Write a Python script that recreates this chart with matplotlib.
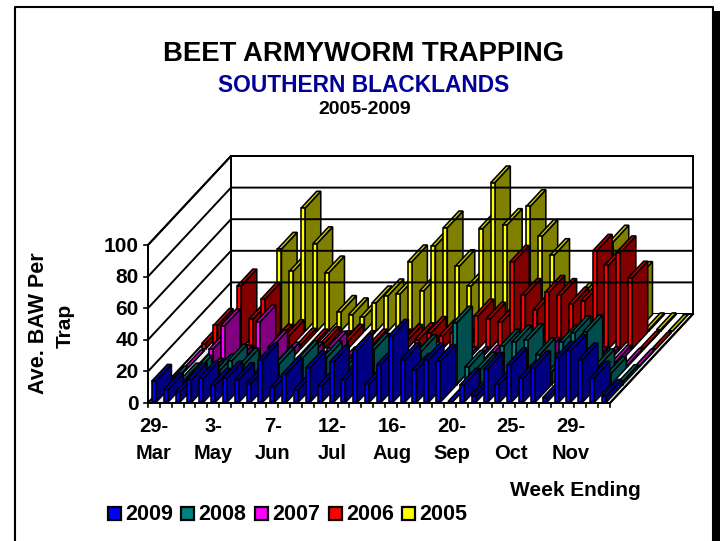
import matplotlib
matplotlib.use("Agg")
import matplotlib.pyplot as plt

plt.rcParams['font.family'] = ['Liberation Sans', 'DejaVu Sans']

# weekly values, one list per year, same 39 weeks
y2009 = [13.5, 8, 6.5, 14.5, 15.5, 11, 15.5, 14.5, 12, 27, 9.5, 18, 8, 22, 10.5, 25.5, 14.5, 33, 11.5, 24,
         42, 27, 20.5, 27, 26, 0.5, 11, 4, 21, 11.5, 24, 15.5, 22, 3, 28, 32.5, 27, 15.5, 4]
y2008 = [1, 3, 8, 6, 9, 15, 12.5, 4, 2, 13, 3, 17, 4, 17, 6, 8, 5, 22, 5, 8,
         10, 21, 5, 8, 39, 11, 10, 6, 24.5, 27, 28, 19, 8, 27, 33, 33.5, 12, 7, 2]
y2007 = [0, 0.5, 11, 26, 3, 3, 28.5, 12.5, 5, 2, 5, 2, 12, 2, 1, 1, 1, 1, 1, 2,
         2, 2, 3, 2, 2, 3, 2, 2, 1, 1, 8, 2, 2, 2, 2, 2, 3, 1, 0.5]
y2006 = [3.5, 15, 10, 40, 19, 31.5, 5, 8, 2.5, 2, 3.5, 1, 5, 1, 2, 2, 2, 5, 6, 10,
         8, 10, 5, 21, 19, 17, 55, 34, 25, 36, 34, 28.5, 30.5, 62, 53, 61, 45, 0.5, 0]
y2005 = [0, 0, 0, 0, 0, 52, 38, 78, 55.5, 37, 12, 10.5, 9, 18, 22.5, 23.5, 44, 25.5, 54, 65.5,
         41, 28.5, 65, 94, 67, 30, 79, 60, 48, 5, 20, 5, 5, 56.5, 10, 33.5, 1, 1, 0]

years = ['2009', '2008', '2007', '2006', '2005']
series = [y2009, y2008, y2007, y2006, y2005]
front_cols = ['#0000ff', '#008080', '#ff00ff', '#ff0000', '#ffff00']
top_cols = ['#0000cc', '#006666', '#cc00cc', '#cc0000', '#cccc00']
side_cols = ['#000080', '#004d4d', '#800080', '#800000', '#808000']

week_labels = ['29-\nMar', '3-\nMay', '7-\nJun', '12-\nJul', '16-\nAug', '20-\nSep', '25-\nOct', '29-\nNov']
y_ticks = [0, 20, 40, 60, 80, 100]

# box geometry in pixels
X0, Y0 = 148.0, 403.0
CAT_W = 462.0 / 39
UNIT_H = 1.58
DEPTH_X, DEPTH_Y = 83.0 / 5, 89.0 / 5
N = len(y2009)


def pt(cat, depth, val=0.0):
    # oblique projection: category, series slot, value -> picture position
    return (X0 + cat * CAT_W + depth * DEPTH_X, Y0 - val * UNIT_H - depth * DEPTH_Y)


def poly(ax, corners, color, lw=1.15):
    xs = [c[0] for c in corners]
    ys = [c[1] for c in corners]
    ax.fill(xs, ys, facecolor=color, edgecolor='black', linewidth=lw, joinstyle='miter')


def bar(ax, i, k, val):
    left, right = i + 0.28, i + 0.62
    d0, d1 = k + 0.03, k + 0.97
    poly(ax, [pt(right, d0), pt(right, d1), pt(right, d1, val), pt(right, d0, val)], side_cols[k])
    poly(ax, [pt(left, d0, val), pt(right, d0, val), pt(right, d1, val), pt(left, d1, val)], top_cols[k])
    poly(ax, [pt(left, d0), pt(right, d0), pt(right, d0, val), pt(left, d0, val)], front_cols[k])


fig = plt.figure(figsize=(7.2, 5.41), dpi=100)
ax = fig.add_axes([0, 0, 1, 1])
ax.set_xlim(0, 720)
ax.set_ylim(541, 0)
ax.axis('off')

# outer frame and its shadow
ax.fill([713.5, 720, 720, 713.5], [11, 11, 541, 541], color='black', lw=0, zorder=0)
ax.plot([14.5, 14.5, 712.5, 712.5], [545, 7, 7, 545], color='black', lw=1.5, zorder=0)

# walls and floor
poly(ax, [pt(0, 5), pt(N, 5), pt(N, 5, 100), pt(0, 5, 100)], 'white', 1.4)
poly(ax, [pt(0, 0), pt(0, 5), pt(0, 5, 100), pt(0, 0, 100)], 'white', 1.4)
poly(ax, [pt(0, 0), pt(N, 0), pt(N, 5), pt(0, 5)], '#e8e8e8', 1.4)
ax.fill(*zip(pt(1.2, 0), pt(38.15, 0), pt(38.15, 5), pt(1.2, 5)), color='white', lw=0)
ax.plot(*zip(pt(0, 0), pt(N, 0), pt(N, 5)), color='black', lw=1.4)

for v in y_ticks[1:]:
    ax.plot(*zip(pt(0, 0, v), pt(0, 5, v), pt(N, 5, v)), color='black', lw=1.4)

# back row first so the nearer years cover it
for k in range(4, -1, -1):
    for i in range(N):
        bar(ax, i, k, series[k][i])

# redraw front edge, then ticks
ax.plot(*zip(pt(0, 0), pt(N, 0)), color='black', lw=1.4)
ax.plot(*zip(pt(0, 0), pt(0, 0, 100)), color='black', lw=1.4)
for i in range(N + 1):
    x, y = pt(i, 0)
    ax.plot([x, x], [y, y + 4], color='black', lw=1.2)
for v in y_ticks:
    x, y = pt(0, 0, v)
    ax.plot([x - 4, x], [y, y], color='black', lw=1.2)
    ax.text(x - 9, y + 1, str(v), ha='right', va='center', fontsize=15, fontweight='bold')

for j, lab in enumerate(week_labels):
    x, y = pt(j * 5 + 0.5, 0)
    ax.text(x + j * 0.3, y + 37, lab, ha='center', va='center', fontsize=14.5, fontweight='bold', linespacing=1.55)

ax.text(364, 54, 'BEET ARMYWORM TRAPPING', ha='center', va='center', fontsize=19.8, fontweight='bold')
ax.text(364, 85, 'SOUTHERN BLACKLANDS', ha='center', va='center', fontsize=16.4, fontweight='bold', color='#000099')
ax.text(365, 109, '2005-2009', ha='center', va='center', fontsize=14, fontweight='bold')

ax.text(38, 323, 'Ave. BAW Per', rotation=90, ha='center', va='center', fontsize=15.5, fontweight='bold')
ax.text(65, 326, 'Trap', rotation=90, ha='center', va='center', fontsize=15, fontweight='bold')
ax.text(575, 491, 'Week Ending', ha='center', va='center', fontsize=15, fontweight='bold')

# legend laid out by hand, Excel style
legend_x = [107, 180, 254, 328, 401]
for name, lx, col in zip(years, legend_x, front_cols):
    ax.fill([lx + 1, lx + 14, lx + 14, lx + 1], [507, 507, 520, 520], facecolor=col, edgecolor='black', linewidth=1.6)
    ax.text(lx + 18, 514, name, ha='left', va='center', fontsize=15.5, fontweight='bold')

fig.savefig('out.png', dpi=100)
